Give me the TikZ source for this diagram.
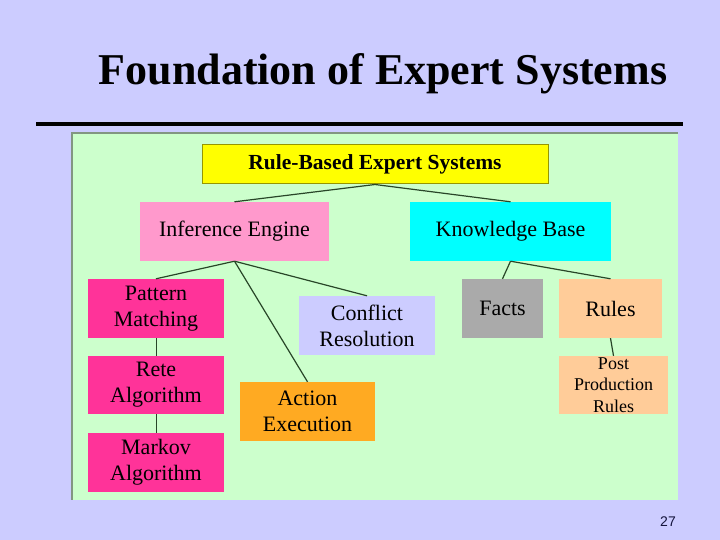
\documentclass[tikz,border=0pt]{standalone}
\usepackage{fontspec}
\setmainfont{Liberation Serif}
\setsansfont{Liberation Sans}
\definecolor{bgl}{RGB}{204,204,255}
\definecolor{pgreen}{RGB}{204,255,204}
\definecolor{pborder}{RGB}{130,150,130}
\definecolor{ylw}{RGB}{255,255,0}
\definecolor{ylwb}{RGB}{150,150,0}
\definecolor{pinkl}{RGB}{255,153,204}
\definecolor{cyanc}{RGB}{0,255,255}
\definecolor{magc}{RGB}{255,51,153}
\definecolor{lavc}{RGB}{204,204,255}
\definecolor{orgc}{RGB}{255,170,34}
\definecolor{grayc}{RGB}{170,170,170}
\definecolor{peach}{RGB}{255,204,153}
\definecolor{linec}{RGB}{40,70,40}
\definecolor{numc}{RGB}{20,20,60}
\tikzset{
  box/.style={inner sep=0pt, align=center, font=\fontsize{22}{26}\selectfont},
  conn/.style={draw=linec, line width=1.2pt},
}
\begin{document}
\begin{tikzpicture}[x=1pt,y=-1pt]
\useasboundingbox (0,0) rectangle (720,540);
\fill[bgl] (0,0) rectangle (720,540);
\node[font=\fontsize{44}{50}\selectfont\bfseries, anchor=base] (title) at (383,85) {Foundation of Expert Systems};
\fill[black] (36,122) rectangle (683,126);
\fill[pborder] (71,132) rectangle (678,500);
\fill[pgreen] (73,134) rectangle (678,500);
% nodes
\node[box, fill=ylw, draw=ylwb, line width=1pt, minimum width=346pt, minimum height=39pt, font=\fontsize{21.5}{24}\selectfont\bfseries] (rbes) at (375,164.5) {Rule-Based Expert Systems};
\node[box, fill=pinkl, minimum width=189pt, minimum height=59pt] (ie) at (234.5,231.5) {Inference Engine};
\node[box, fill=cyanc, minimum width=201pt, minimum height=59pt] (kb) at (510.5,231.5) {Knowledge Base};
\node[box, fill=magc, minimum width=136pt, minimum height=59pt] (pm) at (156,308.5) {Pattern\\Matching};
\node[box, fill=magc, minimum width=136pt, minimum height=58pt] (rete) at (156,385) {Rete\\Algorithm};
\node[box, fill=magc, minimum width=136pt, minimum height=59pt] (mark) at (156,462.5) {Markov\\Algorithm};
\node[box, fill=lavc, minimum width=136pt, minimum height=59pt] (cr) at (367,325.5) {Conflict\\Resolution};
\node[box, fill=orgc, minimum width=135pt, minimum height=59pt] (ae) at (307.5,411.5) {Action\\Execution};
\node[box, fill=grayc, minimum width=81pt, minimum height=59pt] (facts) at (502.5,308.5) {Facts};
\node[box, fill=peach, minimum width=103pt, minimum height=59pt] (rules) at (610.5,308.5) {Rules};
\node[box, fill=peach, minimum width=109pt, minimum height=58pt, font=\fontsize{18}{21.5}\selectfont] (ppr) at (613.5,385) {Post\\Production\\Rules};
% connectors
\draw[conn] (rbes.south) -- (ie.north);
\draw[conn] (rbes.south) -- (kb.north);
\draw[conn] (ie.south) -- (pm.north);
\draw[conn] (ie.south) -- (cr.north);
\draw[conn] (ie.south) -- (ae.north);
\draw[conn] (kb.south) -- (facts.north);
\draw[conn] (kb.south) -- (rules.north);
\draw[conn] (rules.south) -- (ppr.north);
\draw[conn, line width=0.8pt] (pm.south) -- (rete.north);
\draw[conn, line width=0.8pt] (rete.south) -- (mark.north);
\node[font=\sffamily\fontsize{14}{16}\selectfont, text=numc] (num) at (668,522) {27};
\end{tikzpicture}
\end{document}
